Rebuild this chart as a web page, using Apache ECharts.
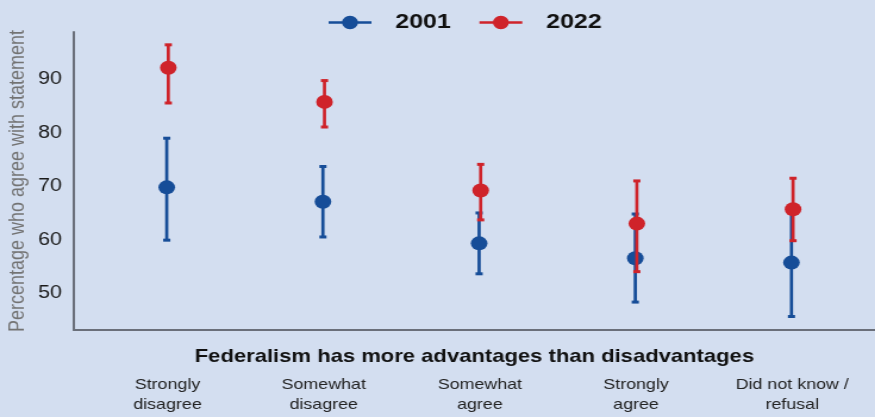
<!DOCTYPE html>
<html>
<head>
<meta charset="utf-8">
<script src="https://cdn.jsdelivr.net/npm/echarts@6/dist/echarts.min.js"></script>
<style>
  html, body { margin: 0; padding: 0; background: #d3def0; overflow: hidden; }
  /* the figure is laid out on a narrower canvas and widened to 875px */
  #chart { width: 735px; height: 417px; transform: scaleX(1.1905); transform-origin: 0 0; }
</style>
</head>
<body>
<div id="chart"></div>
<script>
// Response categories along the x axis
var categories = ['Strongly\ndisagree', 'Somewhat\ndisagree', 'Somewhat\nagree', 'Strongly\nagree', 'Did not know /\nrefusal'];
var seriesNames = ['2001', '2022'];

// Share agreeing (%) with confidence interval bounds
var est2001 = [69.8, 67.1, 59.3, 56.5, 55.7];
var lo2001  = [59.9, 60.5, 53.6, 48.3, 45.6];
var hi2001  = [79.0, 73.7, 65.0, 64.8, 65.8];

var est2022 = [92.2, 85.8, 69.2, 63.0, 65.7];
var lo2022  = [85.6, 81.1, 63.7, 54.0, 59.8];
var hi2022  = [96.5, 89.8, 74.1, 71.0, 71.5];

var yTicks = [50, 60, 70, 80, 90];

var BLUE = '#164d98';
var RED = '#cf232a';
var DODGE = 0.005;

function rows(est, lo, hi, shift) {
  return categories.map(function (c, i) {
    return [i + 1 + shift, est[i], lo[i], hi[i]];
  });
}

function errorPoint(color) {
  return function (params, api) {
    var x = api.value(0);
    var p = api.coord([x, api.value(1)]);
    var lo = api.coord([x, api.value(2)]);
    var hi = api.coord([x, api.value(3)]);
    var cap = 3;
    var lineStyle = { stroke: color, lineWidth: 2.7 };
    return {
      type: 'group',
      children: [
        { type: 'line', shape: { x1: p[0], y1: lo[1], x2: p[0], y2: hi[1] }, style: lineStyle },
        { type: 'line', shape: { x1: p[0] - cap, y1: lo[1], x2: p[0] + cap, y2: lo[1] }, style: { stroke: color, lineWidth: 3 } },
        { type: 'line', shape: { x1: p[0] - cap, y1: hi[1], x2: p[0] + cap, y2: hi[1] }, style: { stroke: color, lineWidth: 3 } },
        { type: 'circle', shape: { cx: p[0], cy: p[1], r: 7 }, style: { fill: color } }
      ]
    };
  };
}

// legend marker: short bar with a dot in the middle
var legendIcon = 'path://M0,6.5 L14,6.5 L14,9.5 L0,9.5 Z M29,6.5 L43,6.5 L43,9.5 L29,9.5 Z M13.5,8 A8,8 0 1,1 29.5,8 A8,8 0 1,1 13.5,8 Z';

var chart = echarts.init(document.getElementById('chart'), null, { renderer: 'canvas' });
chart.setOption({
  backgroundColor: '#d3def0',
  animation: false,
  textStyle: { fontFamily: 'Liberation Sans, Arial, sans-serif' },
  legend: {
    left: 271,
    top: 7,
    itemWidth: 36,
    itemHeight: 15,
    itemGap: 24,
    data: [
      { name: seriesNames[0], icon: legendIcon, itemStyle: { color: BLUE } },
      { name: seriesNames[1], icon: legendIcon, itemStyle: { color: RED } }
    ],
    textStyle: { fontSize: 21, fontWeight: 'bold', color: '#111', padding: [0, 0, 0, 15] }
  },
  grid: { left: 62, right: 0, top: 32, bottom: 87, containLabel: false, outerBoundsMode: 'none' },
  xAxis: {
    type: 'value',
    min: 0.4,
    max: 5.53,
    name: 'Federalism has more advantages than disadvantages',
    nameLocation: 'middle',
    nameGap: 17,
    nameMoveOverlap: false,
    nameTextStyle: { fontSize: 18.5, fontWeight: 'bold', color: '#111' },
    splitLine: { show: false },
    axisTick: { show: false },
    axisLine: { show: true, lineStyle: { color: '#6a6f7a', width: 2 } },
    axisLabel: {
      customValues: [1, 2, 3, 4, 5],
      formatter: function (v) { return categories[Math.round(v) - 1]; },
      fontSize: 15,
      lineHeight: 20,
      color: '#222',
      margin: 45
    }
  },
  yAxis: {
    type: 'value',
    min: 43.07,
    max: 98.9,
    name: 'Percentage who agree with statement',
    nameLocation: 'middle',
    nameGap: 38,
    nameMoveOverlap: false,
    nameTextStyle: { fontSize: 18, color: '#737373' },
    splitLine: { show: false },
    axisTick: { show: false },
    axisLine: { show: true, lineStyle: { color: '#6a6f7a', width: 2 } },
    axisLabel: {
      customValues: yTicks,
      fontSize: 18,
      color: '#1a1a1a',
      margin: 10
    }
  },
  series: [
    {
      name: seriesNames[0],
      type: 'custom',
      renderItem: errorPoint(BLUE),
      encode: { x: 0, y: [1, 2, 3] },
      itemStyle: { color: BLUE },
      data: rows(est2001, lo2001, hi2001, -DODGE)
    },
    {
      name: seriesNames[1],
      type: 'custom',
      renderItem: errorPoint(RED),
      encode: { x: 0, y: [1, 2, 3] },
      itemStyle: { color: RED },
      data: rows(est2022, lo2022, hi2022, DODGE)
    }
  ]
});
</script>
</body>
</html>
